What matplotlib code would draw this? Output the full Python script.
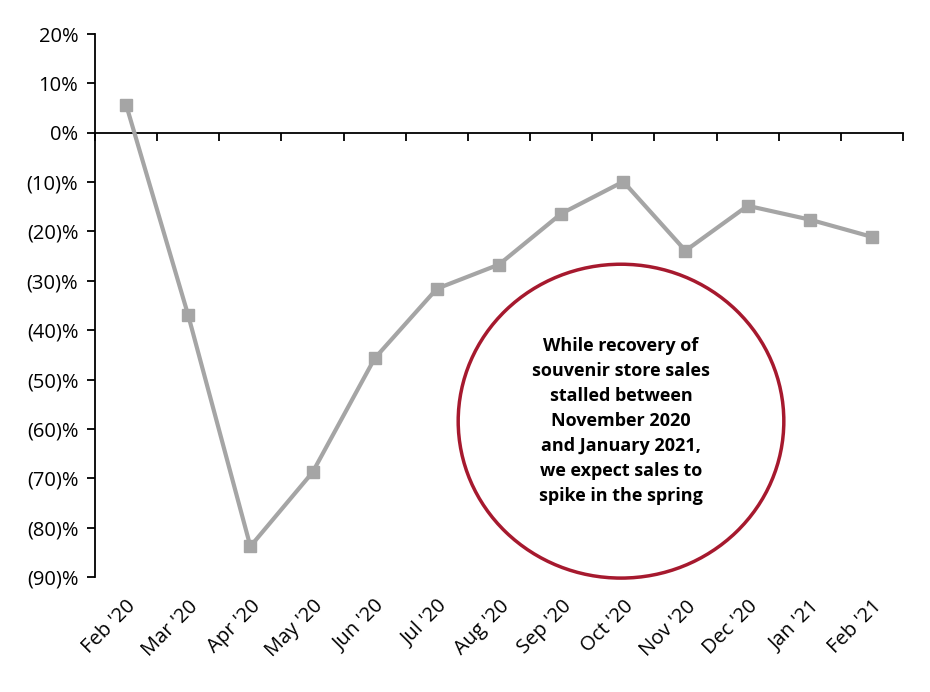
import matplotlib.pyplot as plt
from matplotlib.patches import Ellipse

plt.rcParams['font.family'] = ['Open Sans', 'DejaVu Sans']

months = ["Feb '20", "Mar '20", "Apr '20", "May '20", "Jun '20", "Jul '20", "Aug '20",
          "Sep '20", "Oct '20", "Nov '20", "Dec '20", "Jan '21", "Feb '21"]
sales_change = [5.7, -37.0, -83.8, -68.8, -45.7, -31.6, -26.7, -16.4, -9.9, -23.9, -14.8, -17.6, -21.1]
y_ticks = [20, 10, 0, -10, -20, -30, -40, -50, -60, -70, -80, -90]
note = ("While recovery of\nsouvenir store sales\nstalled between\nNovember 2020\n"
        "and January 2021,\nwe expect sales to\nspike in the spring")


def pct_label(v):
    if v < 0:
        return "(%d)%%" % abs(v)
    return "%d%%" % v


fig = plt.figure(figsize=(9.3, 6.92), dpi=100)
ax = fig.add_axes((95 / 930, 1 - 577 / 692, 808 / 930, 543 / 692))

x = list(range(len(months)))
ax.plot(x, sales_change, color="#A5A5A5", linewidth=3, marker="s", markersize=8, zorder=3)

ax.set_xlim(-0.5, len(months) - 0.5)
ax.set_ylim(-90, 20)
ax.set_yticks(y_ticks)
ax.set_yticklabels([pct_label(v) for v in y_ticks], fontsize=14.5)
ax.tick_params(axis="y", length=6, width=1.3, pad=6)

# category labels at the bottom, no tick marks
ax.set_xticks(x)
ax.set_xticklabels(months, rotation=45, ha="right", rotation_mode="anchor", fontsize=14.5)
ax.tick_params(axis="x", length=0, pad=14)

for s in ["top", "right", "bottom"]:
    ax.spines[s].set_visible(False)
ax.spines["left"].set_linewidth(1.3)

# zero line with boundary ticks
sec = ax.secondary_xaxis(0, transform=ax.transData)
sec.set_xticks([i - 0.5 for i in range(len(months) + 1)])
sec.set_xticklabels([])
sec.tick_params(length=6, width=1.3, direction="out")
sec.spines["bottom"].set_linewidth(1.3)

circ = Ellipse((0.651, 0.287), 0.403, 0.578, transform=ax.transAxes,
               facecolor="white", edgecolor="#A6192E", linewidth=2.5, zorder=4, clip_on=False)
ax.add_patch(circ)
ax.text(0.651, 0.287, note, transform=ax.transAxes, ha="center", va="center",
        fontsize=13, fontweight="bold", linespacing=1.5, zorder=5)

fig.savefig("out.png", dpi=100)
